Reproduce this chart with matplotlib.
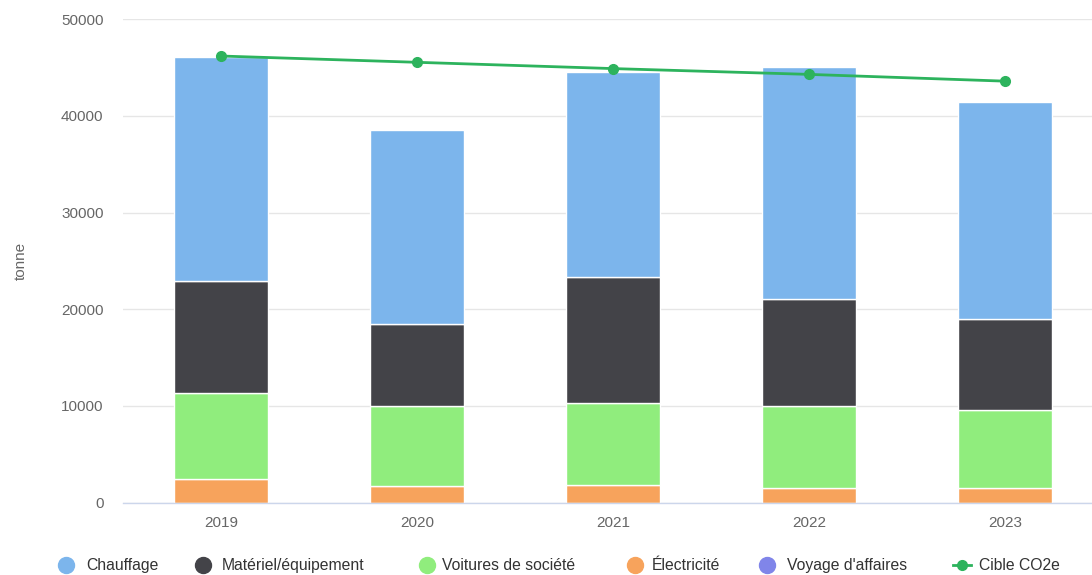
import matplotlib
matplotlib.use("Agg")
import matplotlib.pyplot as plt
from matplotlib.lines import Line2D
import numpy as np

plt.rcParams['font.family'] = ['Liberation Sans', 'DejaVu Sans']

years = ["2019", "2020", "2021", "2022", "2023"]
electricite = [2380, 1660, 1860, 1450, 1550]
voitures = [8900, 8280, 8390, 8490, 7970]
materiel = [11600, 8490, 13040, 11070, 9420]
chauffage = [23190, 20080, 21220, 24020, 22470]
voyage = [0, 0, 0, 0, 0]
cible = [46200, 45550, 44900, 44300, 43600]

series = [
    ("Électricité", electricite, "#f7a35c"),
    ("Voitures de société", voitures, "#90ed7d"),
    ("Matériel/équipement", materiel, "#434348"),
    ("Chauffage", chauffage, "#7cb5ec"),
    ("Voyage d'affaires", voyage, "#8085e9"),
]
line_color = "#2db35d"

W, H = 1092, 575
fig = plt.figure(figsize=(W/100, H/100), dpi=100)
ax = fig.add_axes([123/W, 1-502.5/H, 1-123/W, (502.5-19.3)/H])

x = np.arange(len(years))
bottom = np.zeros(len(years))
for name, vals, col in series:
    v = np.array(vals, dtype=float)
    if v.sum() > 0:
        ax.bar(x, v, bottom=bottom, width=0.48, color=col, edgecolor="white", linewidth=1, zorder=2)
    bottom += v

ax.plot(x, cible, color=line_color, linewidth=2, marker="o", markersize=7, zorder=4)

ax.set_xlim(-0.5, 4.444)
ax.set_ylim(0, 50000)
ax.set_yticks([0, 10000, 20000, 30000, 40000, 50000])
ax.set_yticklabels(["0", "10000", "20000", "30000", "40000", "50000"])
ax.set_xticks(x)
ax.set_xticklabels(years)
ax.tick_params(axis="both", length=0, labelsize=11, colors="#666666")
ax.tick_params(axis="y", pad=14)
ax.tick_params(axis="x", pad=10)
ax.grid(axis="y", color="#e6e6e6", linewidth=1, zorder=0)
ax.set_axisbelow(True)
for s in ["top", "right", "left"]:
    ax.spines[s].set_visible(False)
ax.spines["bottom"].set_color("#ccd6eb")
ax.spines["bottom"].set_linewidth(1)
ax.set_ylabel("tonne", fontsize=11, color="#666666", labelpad=24)

# manual legend (layout positions in pixels)
legend_labels = ["Chauffage", "Matériel/équipement", "Voitures de société", "Électricité", "Voyage d'affaires", "Cible CO2e"]
legend_colors = ["#7cb5ec", "#434348", "#90ed7d", "#f7a35c", "#8085e9", line_color]
marker_x = [66, 203, 427, 635, 767, 962]
text_x = [86, 222, 442, 652, 787, 979]
ly = 1 - 565/H
for i, (lab, col) in enumerate(zip(legend_labels, legend_colors)):
    mx = marker_x[i] / W
    if i < 5:
        fig.add_artist(Line2D([mx], [ly], transform=fig.transFigure, linestyle="none",
                              marker="o", markersize=11.5, color=col))
    else:
        fig.add_artist(Line2D([mx - 9/W, mx + 9/W], [ly, ly], transform=fig.transFigure,
                              color=col, linewidth=2))
        fig.add_artist(Line2D([mx], [ly], transform=fig.transFigure, linestyle="none",
                              marker="o", markersize=7, color=col))
    fig.text(text_x[i] / W, 1 - 570/H, lab, fontsize=11.3, color="#333333",
             ha="left", va="baseline")

fig.savefig("out.png", dpi=100)
